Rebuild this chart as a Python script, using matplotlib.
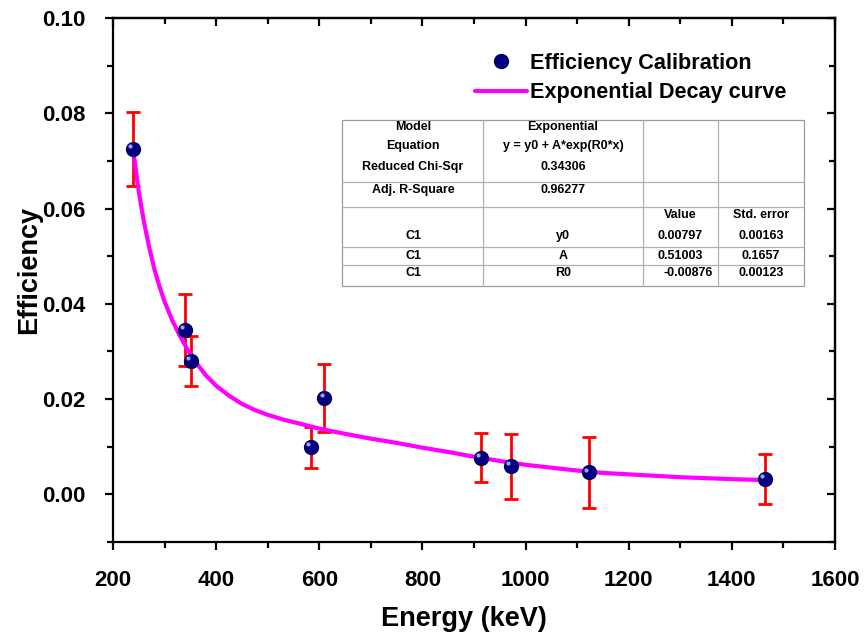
import matplotlib
matplotlib.use("Agg")
import matplotlib.pyplot as plt
import matplotlib.transforms as mtransforms
from matplotlib.ticker import MultipleLocator

plt.rcParams['font.family'] = ['Liberation Sans', 'DejaVu Sans']
plt.rcParams['font.weight'] = 'bold'

# measured points (energy, efficiency, error)
energy = [238, 340, 351, 584, 610, 914, 971, 1123, 1464]
efficiency = [0.0725, 0.0345, 0.0280, 0.0099, 0.0202, 0.0077, 0.0059, 0.0046, 0.0032]
eff_err = [0.0078, 0.0075, 0.0052, 0.0043, 0.0072, 0.0051, 0.0068, 0.0075, 0.0053]

# fitted curve
curve_x = [239, 250, 260, 270, 280, 290, 300, 315, 330, 345, 360, 380, 400,
           425, 450, 475, 500, 530, 560, 600, 650, 700, 750, 800, 850, 900,
           950, 1000, 1050, 1100, 1150, 1200, 1250, 1300, 1350, 1400, 1464]
curve_y = [0.0723, 0.0635, 0.0572, 0.0520, 0.0474, 0.0437, 0.0405, 0.0365,
           0.0332, 0.0303, 0.0278, 0.0250, 0.0228, 0.0207, 0.0190, 0.0177,
           0.0167, 0.0157, 0.0149, 0.0138, 0.0127, 0.0117, 0.0108, 0.0098,
           0.0089, 0.0079, 0.0070, 0.0062, 0.0056, 0.0050, 0.0045, 0.0042,
           0.0039, 0.0036, 0.0034, 0.0032, 0.0030]

# fit table contents
table_rows = [
    ["Model", "Exponential", "", ""],
    ["Equation", "y = y0 + A*exp(R0*x)", "", ""],
    ["Reduced Chi-Sqr", "0.34306", "", ""],
    ["Adj. R-Square", "0.96277", "", ""],
    ["", "", "Value", "Std. error"],
    ["C1", "y0", "0.00797", "0.00163"],
    ["C1", "A", "0.51003", "0.1657"],
    ["C1", "R0", "-0.00876", "0.00123"],
]

W, H = 866, 633
fig = plt.figure(figsize=(W / 100, H / 100), dpi=100)
ax = fig.add_axes([113 / W, 1 - 542 / H, 722 / W, 524 / H])

ax.errorbar(energy, efficiency, yerr=eff_err, fmt='none', ecolor='#ff0000',
            elinewidth=2, capsize=5, capthick=2, zorder=2)
ax.plot(curve_x, curve_y, color='#ff00ff', lw=3, zorder=3,
        label='Exponential Decay curve', solid_capstyle='round')
ax.plot(energy, efficiency, 'o', color='#000080', ms=10, mec='#000060',
        zorder=4, label='Efficiency Calibration')
hl = ax.transData + mtransforms.ScaledTranslation(-2 / 72, 2 / 72, fig.dpi_scale_trans)
ax.plot(energy, efficiency, 'o', color='#a0a0ff', ms=3, mew=0, zorder=5,
        transform=hl)

ax.set_xlim(200, 1600)
ax.set_ylim(-0.01, 0.10)
ax.xaxis.set_major_locator(MultipleLocator(200))
ax.xaxis.set_minor_locator(MultipleLocator(100))
ax.yaxis.set_major_locator(MultipleLocator(0.02))
ax.yaxis.set_minor_locator(MultipleLocator(0.01))
ax.yaxis.set_major_formatter(plt.FuncFormatter(lambda v, p: f"{v:.2f}"))

for s in ax.spines.values():
    s.set_linewidth(1.6)
ax.tick_params(which='major', direction='out', length=6, width=1.6,
               labelsize=16, pad=14)
ax.tick_params(which='minor', direction='out', length=4, width=1.6)
for lab in ax.get_xticklabels() + ax.get_yticklabels():
    lab.set_fontweight('bold')

# mirrored top/right ticks pointing inward
top = ax.secondary_xaxis('top')
top.xaxis.set_major_locator(MultipleLocator(200))
top.xaxis.set_minor_locator(MultipleLocator(100))
top.tick_params(which='major', direction='in', length=6, width=1.6, labeltop=False)
top.tick_params(which='minor', direction='in', length=4, width=1.6)
right = ax.secondary_yaxis('right')
right.yaxis.set_major_locator(MultipleLocator(0.02))
right.yaxis.set_minor_locator(MultipleLocator(0.01))
right.tick_params(which='major', direction='in', length=6, width=1.6, labelright=False)
right.tick_params(which='minor', direction='in', length=4, width=1.6)
for sa in (top, right):
    for s in sa.spines.values():
        s.set_linewidth(1.6)

ax.set_xlabel("Energy (keV)", fontsize=19.5, fontweight='bold')
ax.set_ylabel("Efficiency", fontsize=19.5, fontweight='bold')
ax.xaxis.set_label_coords(0.486, -0.122)
ax.yaxis.set_label_coords(-0.098, 0.519)

h, l = ax.get_legend_handles_labels()
ax.legend(h[::-1], l[::-1], loc='upper left', bbox_to_anchor=(475 / W, 1 - 53 / H),
          bbox_transform=fig.transFigure, frameon=False,
          handlelength=2.4, handletextpad=0.12, labelspacing=0.38, borderpad=0,
          borderaxespad=0, prop={'weight': 'bold', 'size': 15.6})

# fit results table
col_edges = [342, 483, 643, 718, 804]
col_cx = [413, 563, 680, 761]
row_cy = [127, 146, 167, 190, 215, 236, 256, 273]
hlines = [182, 207, 247, 265]
tb_top, tb_bot = 120, 286

def fx(px):
    return px / W

def fy(py):
    return 1 - py / H

lc = '#b0b0b0'
fig.add_artist(plt.Rectangle((fx(col_edges[0]), fy(tb_bot)),
                             fx(col_edges[-1]) - fx(col_edges[0]),
                             fy(tb_top) - fy(tb_bot), fill=True, fc='white',
                             ec='#9a9a9a', lw=0.9, transform=fig.transFigure,
                             zorder=6))
for yy in hlines:
    fig.add_artist(plt.Line2D([fx(col_edges[0]), fx(col_edges[-1])], [fy(yy), fy(yy)],
                              color=lc, lw=0.9, transform=fig.transFigure, zorder=7))
for xx in col_edges[1:-1]:
    fig.add_artist(plt.Line2D([fx(xx), fx(xx)], [fy(tb_top), fy(tb_bot)],
                              color=lc, lw=0.9, transform=fig.transFigure, zorder=7))
for r, row in enumerate(table_rows):
    for c, txt in enumerate(row):
        if txt:
            dx = 8 if txt.startswith('-') else 0
            fig.text(fx(col_cx[c] + dx), fy(row_cy[r]), txt, ha='center', va='center',
                     fontsize=9, fontweight='bold', zorder=8)

fig.savefig("out.png", dpi=100)
